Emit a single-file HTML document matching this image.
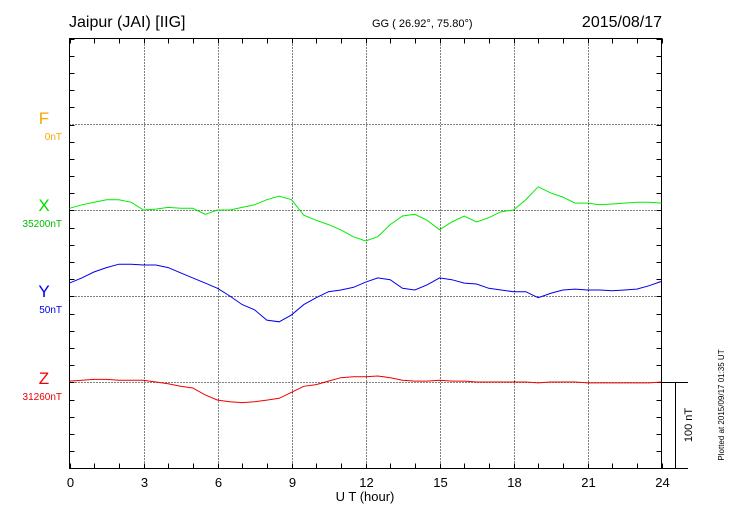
<!DOCTYPE html>
<html><head><meta charset="utf-8"><style>
body{margin:0;background:#fff;}
svg{display:block;font-family:"Liberation Sans",sans-serif;}
</style></head><body>
<svg id="chart" width="730" height="520" viewBox="0 0 730 520" xmlns="http://www.w3.org/2000/svg">
<text x="69" y="27" font-size="16">Jaipur (JAI)  [IIG]</text>
<text x="372" y="27" font-size="11">GG ( 26.92°,  75.80°)</text>
<text x="662" y="27" font-size="16" text-anchor="end">2015/08/17</text>
<g id="grid"></g>
<rect x="69.5" y="38.5" width="592" height="430" fill="none" stroke="#000" stroke-width="1"/>
<g id="traces"></g>
<text x="44" y="124" font-size="17" fill="#f5a800" text-anchor="middle">F</text>
<text x="62" y="140" font-size="10" fill="#f5a800" text-anchor="end">0nT</text>
<text x="44" y="211" font-size="17" fill="#00dd00" text-anchor="middle">X</text>
<text x="62" y="227" font-size="10" fill="#00bb00" text-anchor="end">35200nT</text>
<text x="44" y="297" font-size="17" fill="#0000ee" text-anchor="middle">Y</text>
<text x="62" y="313" font-size="10" fill="#0000ee" text-anchor="end">50nT</text>
<text x="44" y="384" font-size="17" fill="#ee0000" text-anchor="middle">Z</text>
<text x="62" y="400" font-size="10" fill="#ee0000" text-anchor="end">31260nT</text>
<text x="365" y="501" font-size="13" text-anchor="middle">U T (hour)</text>
<line x1="661" y1="382.5" x2="688" y2="382.5" stroke="#000"/>
<line x1="675.5" y1="382" x2="675.5" y2="469" stroke="#000"/>
<line x1="661" y1="468.5" x2="688" y2="468.5" stroke="#000"/>
<text transform="translate(692,425) rotate(-90)" font-size="11" text-anchor="middle">100 nT</text>
<text transform="translate(724,405) rotate(-90)" font-size="8" text-anchor="middle">Plotted at 2015/09/17 01:35 UT</text>
</svg>
<script>
const hours=[0,0.5,1,1.5,2,2.5,3,3.5,4,4.5,5,5.5,6,6.5,7,7.5,8,8.5,9,9.5,10,10.5,11,11.5,12,12.5,13,13.5,14,14.5,15,15.5,16,16.5,17,17.5,18,18.5,19,19.5,20,20.5,21,21.5,22,22.5,23,23.5,24];
const xValues=[2,6,9,12,12,9,0,1,3,2,2,-5,0,0,3,6,12,16,12,-6,-12,-17,-23,-31,-36,-31,-17,-7,-5,-12,-23,-14,-7,-14,-9,-2,0,12,27,20,15,8,8,6,7,8,9,9,8];
const yValues=[15,21,28,33,37,37,36,36,33,27,21,15,9,0,-10,-16,-28,-30,-22,-10,-2,5,7,10,16,21,19,9,7,13,21,19,15,14,9,7,5,5,-2,3,7,8,7,7,6,7,8,12,17];
const zValues=[1,2,3,3,2,2,2,0,-2,-5,-7,-15,-21,-23,-24,-23,-21,-19,-12,-5,-3,1,5,6,6,7,5,2,1,1,2,1,1,0,0,0,0,0,-1,0,0,0,-1,-1,-1,-1,-1,-1,0];
const xTicks=[0,3,6,9,12,15,18,21,24];
const NS="http://www.w3.org/2000/svg";
const X0=69.5,X1=661.5,T=38.5,B=468.5,PXNT=0.86;
const xs=h=>X0+(X1-X0)*h/24;
const ys=(base,v)=>base-v*PXNT;
const grid=document.getElementById('grid'),tr=document.getElementById('traces');
function mk(tag,attrs,parent){const e=document.createElementNS(NS,tag);for(const k in attrs)e.setAttribute(k,attrs[k]);parent.appendChild(e);return e;}
xTicks.forEach(h=>{
 const x=Math.round(xs(h))+0.5;
 if(h>0&&h<24){const g=mk('line',{x1:x,y1:T,x2:x,y2:B,stroke:'#000','stroke-dasharray':'1,2'},grid);
 
 }
 const t=mk('text',{x:x,y:487,'font-size':13,'text-anchor':'middle'},grid);t.textContent=h;
 
 
});
for(let h=0;h<=24;h++){const x=Math.round(xs(h))+0.5;
 mk('line',{x1:x,y1:T,x2:x,y2:T+5,stroke:'#000'},grid);mk('line',{x1:x,y1:B,x2:x,y2:B-5,stroke:'#000'},grid);}
[124.5,210.5,296.5,382.5].forEach(y=>{const g=mk('line',{x1:X0,y1:y,x2:X1,y2:y,stroke:'#000','stroke-dasharray':'1,2'},grid);
 
 });
for(let y=T;y<=B+0.1;y+=430/25){const yy=Math.round(y)+0.5;
 mk('line',{x1:X0,y1:yy,x2:X0+5,y2:yy,stroke:'#000'},grid);mk('line',{x1:X1,y1:yy,x2:X1-5,y2:yy,stroke:'#000'},grid);}
function trace(vals,base,color,name){
 const d=vals.map((v,i)=>(i?'L':'M')+xs(hours[i]).toFixed(1)+','+ys(base,v).toFixed(1)).join('');
 const p=mk('path',{d:d,fill:'none',stroke:color,'stroke-width':1},tr);
 
 
}
trace(xValues,210,'#00ee00','x-component-trace');
trace(yValues,296,'#0000ee','y-component-trace');
trace(zValues,382,'#ee0000','z-component-trace');
</script>
</body></html>
